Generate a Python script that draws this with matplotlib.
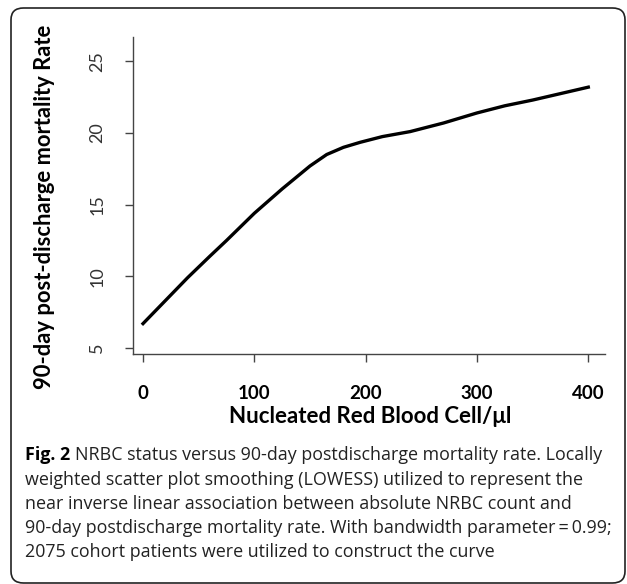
import numpy as np
import matplotlib
matplotlib.use("Agg")
import matplotlib.pyplot as plt
from matplotlib.patches import FancyBboxPatch

# values
nrbc = [0, 20, 40, 60, 75, 100, 125, 150, 165, 180, 195, 215, 240, 270, 300, 325, 350, 375, 400]
rate = [6.7, 8.3, 9.9, 11.4, 12.5, 14.4, 16.1, 17.7, 18.5, 19.0, 19.35, 19.75, 20.1, 20.7, 21.4, 21.9, 22.3, 22.75, 23.2]
x_ticks = [0, 100, 200, 300, 400]
y_ticks = [5, 10, 15, 20, 25]

caption_lines = [
    "NRBC status versus 90-day postdischarge mortality rate. Locally",
    "weighted scatter plot smoothing (LOWESS) utilized to represent the",
    "near inverse linear association between absolute NRBC count and",
    "90-day postdischarge mortality rate. With bandwidth parameter\u2009=\u20090.99;",
    "2075 cohort patients were utilized to construct the curve",
]

W, H = 627, 584
fig = plt.figure(figsize=(W / 100, H / 100), dpi=100)

# rounded frame around figure + caption
frame = FancyBboxPatch((11 / W, 1 - 583 / H), 614 / W, 575 / H,
                       boxstyle="round,pad=0,rounding_size=0.02",
                       transform=fig.transFigure, fill=False,
                       edgecolor="#222222", linewidth=1.2)
fig.patches.append(frame)

ax = fig.add_axes([133 / W, 1 - 354 / H, 472 / W, 317 / H])
ax.plot(nrbc, rate, color="black", linewidth=2.4, solid_joinstyle="round")
ax.set_xlim(-9, 415)
ax.set_ylim(4.58, 26.7)

for s in ["top", "right"]:
    ax.spines[s].set_visible(False)
for s in ["left", "bottom"]:
    ax.spines[s].set_color("#444444")
    ax.spines[s].set_linewidth(1.0)

ax.set_xticks(x_ticks)
ax.set_yticks(y_ticks)
ax.tick_params(axis="both", length=6, width=1.0, color="#444444")
ax.tick_params(axis="x", pad=16)
ax.tick_params(axis="y", pad=14)
ax.set_xticklabels([str(t) for t in x_ticks], fontfamily="Lato",
                   fontweight="bold", fontsize=13.5)
ax.set_yticklabels([str(t) for t in y_ticks], fontfamily="Lato",
                   fontsize=13, rotation=90, va="center", color="#333333")

# axis titles placed in figure pixels
fig.text(370 / W, 1 - 423 / H, "Nucleated Red Blood Cell/\u03bcl",
         fontfamily="Lato", fontweight="bold", fontsize=16,
         ha="center", va="baseline")
fig.text(45 / W, 1 - 207 / H, "90-day post-discharge mortality Rate",
         fontfamily="Lato", fontweight="bold", fontsize=15.8,
         rotation=90, ha="center", va="center")

# caption
fig.canvas.draw()
renderer = fig.canvas.get_renderer()
x0 = 25 / W
baselines = [460, 485, 509, 533, 557]
fig_lbl = fig.text(x0, 1 - baselines[0] / H, "Fig. 2", fontfamily="Open Sans",
                   fontweight="bold", fontsize=12.9, va="baseline", ha="left")
bb = fig_lbl.get_window_extent(renderer)
first_x = (bb.x1 + 5) / W
for i, line in enumerate(caption_lines):
    xx = first_x if i == 0 else x0
    fig.text(xx, 1 - baselines[i] / H, line,
             fontfamily=["Open Sans", "DejaVu Sans"],
             fontsize=12.9, va="baseline", ha="left", color="#222222")

fig.savefig("out.png", dpi=100)
